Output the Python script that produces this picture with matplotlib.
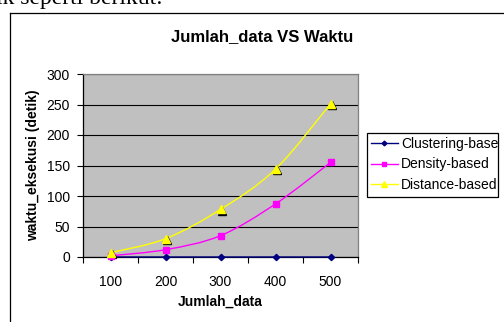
import matplotlib
matplotlib.use('Agg')
import matplotlib.pyplot as plt
from matplotlib.path import Path
from matplotlib.patches import PathPatch, Rectangle
from matplotlib.lines import Line2D
from matplotlib.transforms import Bbox, TransformedBbox, offset_copy
import numpy as np

# ---- data ----
categories = ['100', '200', '300', '400', '500']
clustering = [0, 0, 0, 0, 0]
density = [2, 12, 35, 87, 155]
distance = [7, 30, 78, 144, 251]
yticks = [0, 50, 100, 150, 200, 250, 300]
series_names = ['Clustering-based', 'Density-based', 'Distance-based']

plt.rcParams['font.family'] = ['Liberation Sans', 'DejaVu Sans']

W, H = 504, 322
fig = plt.figure(figsize=(W / 100, H / 100), dpi=100)
fig.patch.set_facecolor('white')


def fx(px):
    return px / W


def fy(py):
    return 1 - py / H


# surrounding document text (cut off at top)
fig.text(fx(-4), fy(4), 'ik seperti berikut:', family=['Liberation Serif', 'DejaVu Serif'],
         fontsize=17, va='baseline', ha='left')

# chart frame
fig.add_artist(Line2D([fx(9.5), fx(9.5)], [fy(12.5), fy(340)], color='black', lw=0.9))
fig.add_artist(Line2D([fx(9.5), fx(520)], [fy(12.5), fy(12.5)], color='black', lw=0.9))

# title
fig.text(fx(262), fy(41), 'Jumlah_data VS Waktu', fontsize=12, weight='bold',
         ha='center', va='baseline')

ax = fig.add_axes([fx(83), fy(257), (358 - 83) / W, (257 - 74) / H])
ax.set_facecolor('#C0C0C0')

x = np.arange(len(categories))


def smooth_path(xs, ys):
    pts = np.column_stack([xs, ys]).astype(float)
    n = len(pts)
    verts = [pts[0]]
    codes = [Path.MOVETO]
    for i in range(n - 1):
        p0 = pts[i - 1] if i > 0 else pts[i]
        p1 = pts[i]
        p2 = pts[i + 1]
        p3 = pts[i + 2] if i + 2 < n else pts[i + 1]
        c1 = p1 + (p2 - p0) / 6.0
        c2 = p2 - (p3 - p1) / 6.0
        verts += [c1, c2, p2]
        codes += [Path.CURVE4] * 3
    return Path(verts, codes)


colors = ['#000080', '#FF00FF', '#FFFF00']
markers = ['D', 's', '^']
msizes = [3.2, 4.0, 5.2]
data = [clustering, density, distance]

for vals, c in zip(data, colors):
    ax.add_patch(PathPatch(smooth_path(x, vals), fc='none', ec=c, lw=1.0,
                           zorder=4, clip_on=False))

# triangle shadow
shadow = offset_copy(ax.transData, fig=fig, x=1.2, y=-1.2, units='dots')
ax.plot(x, distance, ls='none', marker='^', ms=msizes[2], color='black',
        transform=shadow, zorder=5, clip_on=False)
for vals, c, m, s in zip(data, colors, markers, msizes):
    ax.plot(x, vals, ls='none', marker=m, ms=s, color=c, mec=c,
            zorder=6, clip_on=False)

ax.set_xlim(-0.5, len(categories) - 0.5)
ax.set_ylim(0, 300)
ax.set_xticks(x)
ax.set_xticklabels(categories)
ax.set_xticks(np.arange(-0.5, len(categories), 1), minor=True)
ax.tick_params(axis='x', which='major', length=0, pad=13, labelsize=10)
ax.tick_params(axis='x', which='minor', length=4.5, width=0.8, direction='out')
ax.set_yticks(yticks)
ax.tick_params(axis='y', length=4.5, width=0.8, direction='out', pad=5, labelsize=10)

ax.yaxis.grid(True, color='black', lw=0.8)
ax.set_axisbelow(True)
for s in ['top', 'right']:
    ax.spines[s].set_color('#808080')
    ax.spines[s].set_linewidth(0.9)
for s in ['left', 'bottom']:
    ax.spines[s].set_color('black')
    ax.spines[s].set_linewidth(0.9)

ax.set_ylabel('waktu_eksekusi (detik)', fontsize=10, weight='bold', va='center')
ax.yaxis.set_label_coords((33 - 83) / 275, 0.5)
ax.set_xlabel('Jumlah_data', fontsize=10, weight='bold', va='center')
ax.xaxis.set_label_coords(0.5, (257 - 301.5) / 183)

# legend
handles = [Line2D([], [], color=c, marker=m, ms=s * 0.75, mec=c, lw=1.0)
           for c, m, s in zip(colors, markers, msizes)]
leg = fig.legend(handles, series_names, loc='upper left',
                 bbox_to_anchor=(fx(367), fy(133)), frameon=False, fontsize=10,
                 borderpad=0.3, handlelength=1.9, handletextpad=0.25,
                 labelspacing=0.45, borderaxespad=0)
leg.set_zorder(6)
frame = Rectangle((fx(367), fy(197)), (498 - 367) / W, (197 - 133) / H,
                  transform=fig.transFigure, fc='white', ec='black', lw=0.9, zorder=5)
fig.add_artist(frame)
clip = TransformedBbox(Bbox([[fx(367), fy(197)], [fx(497.5), fy(133)]]), fig.transFigure)
for t in leg.get_texts():
    t.set_clip_box(clip)
    t.set_clip_on(True)

fig.savefig('out.png', dpi=100)
